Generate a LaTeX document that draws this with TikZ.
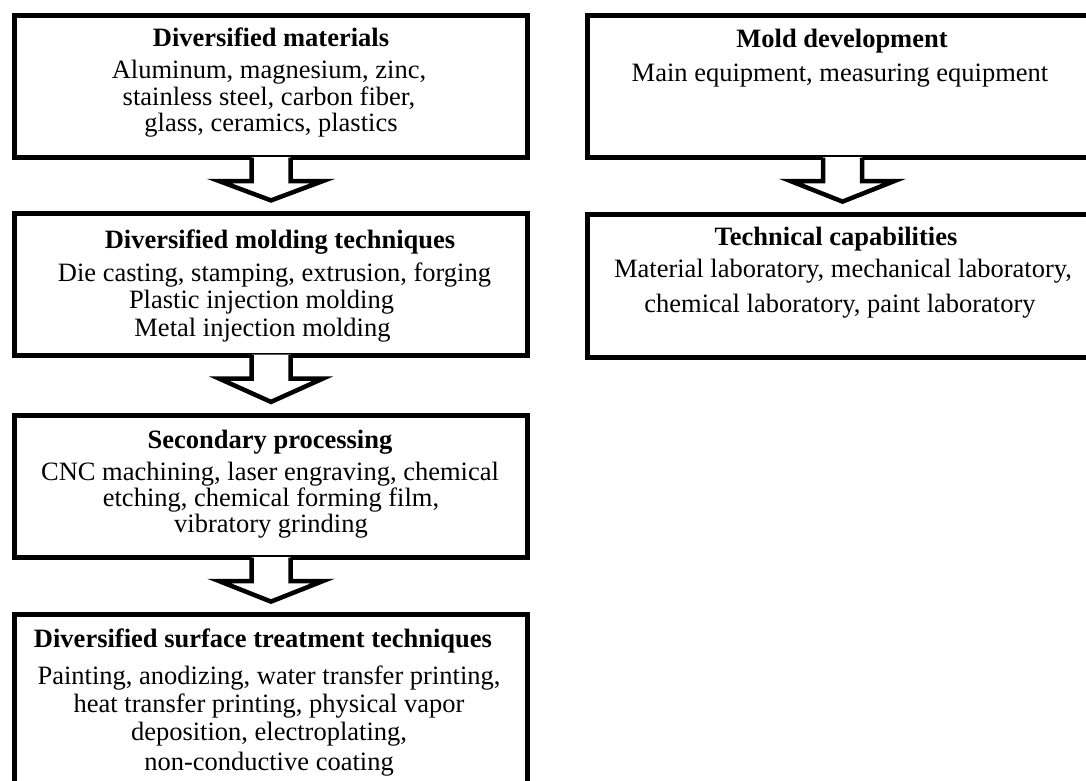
\documentclass[tikz,border=0pt]{standalone}
\usepackage{fontspec}
\setmainfont{Liberation Serif}
\usetikzlibrary{calc}
\newcommand{\blkarrow}[2]{%
  \coordinate (#1-s) at (#1.south);
  \coordinate (#1-t) at ($(#1.south)!0.8!(#2.north)$);
  \fill[white] ($(#1-s)+(-19.5,-3)$) -- ($(#1-s)+(-19.5,21)$) -- ($(#1-s)+(-52,21)$) -- (#1-t) -- ($(#1-s)+(52,21)$) -- ($(#1-s)+(19.5,21)$) -- ($(#1-s)+(19.5,-3)$) -- cycle;
  \draw[blkline] ($(#1-s)+(-19.5,-2.5)$) -- ($(#1-s)+(-19.5,21)$) -- ($(#1-s)+(-52,21)$) -- (#1-t) -- ($(#1-s)+(52,21)$) -- ($(#1-s)+(19.5,21)$) -- ($(#1-s)+(19.5,-2.5)$);
}
\begin{document}
\begin{tikzpicture}[x=1pt,y=-1pt,
  box/.style={draw=black, line width=5pt, fill=white, inner sep=0pt, minimum width=513pt, anchor=north west},
  ttl/.style={anchor=base, inner sep=0pt, font=\fontsize{26.5}{30}\selectfont\bfseries},
  bdy/.style={anchor=base, inner sep=0pt, font=\fontsize{26.5}{30}\selectfont},
  blkline/.style={draw=black, line width=4.5pt, line join=miter, miter limit=10}
]
\useasboundingbox (0,0) rectangle (1086,780);
\begin{scope}
\clip (0,0) rectangle (1086,780);
% boxes
\node[box, minimum height=142pt] (b1) at (12,13) {};
\node[box, minimum height=142pt] (b2) at (12,210.5) {};
\node[box, minimum height=142pt] (b3) at (12,413) {};
\node[box, minimum height=200pt] (b4) at (12,612) {};
\node[box, minimum width=510pt, minimum height=142pt] (rA) at (585,13) {};
\node[box, minimum width=510pt, minimum height=143pt] (rB) at (585,212) {};
% block arrows
\blkarrow{b1}{b2}
\blkarrow{b2}{b3}
\blkarrow{b3}{b4}
\blkarrow{rA}{rB}
% texts
\node[ttl] (t1) at (271,46) {Diversified materials};
\node[bdy] (t1a) at (269,78) {Aluminum, magnesium, zinc,};
\node[bdy] (t1b) at (269,105) {stainless steel, carbon fiber,};
\node[bdy] (t1c) at (271,131) {glass, ceramics, plastics};
\node[ttl] (t2) at (280,248) {Diversified molding techniques};
\node[bdy] (t2a) at (274.5,281) {Die casting, stamping, extrusion, forging};
\node[bdy] (t2b) at (261.5,308) {Plastic injection molding};
\node[bdy] (t2c) at (262.5,336) {Metal injection molding};
\node[ttl] (t3) at (270,448) {Secondary processing};
\node[bdy] (t3a) at (270,480) {CNC machining, laser engraving, chemical};
\node[bdy] (t3b) at (271,506) {etching, chemical forming film,};
\node[bdy] (t3c) at (271,532) {vibratory grinding};
\node[ttl] (t4) at (263,647) {Diversified surface treatment techniques};
\node[bdy] (t4a) at (269,684) {Painting, anodizing, water transfer printing,};
\node[bdy] (t4b) at (269,712) {heat transfer printing, physical vapor};
\node[bdy] (t4c) at (269,740) {deposition, electroplating,};
\node[bdy] (t4d) at (269,770) {non-conductive coating};
\node[ttl] (t5) at (842,47) {Mold development};
\node[bdy] (t5a) at (840,81) {Main equipment, measuring equipment};
\node[ttl] (t6) at (836,245) {Technical capabilities};
\node[bdy] (t6a) at (843,277) {Material laboratory, mechanical laboratory,};
\node[bdy] (t6b) at (840,312) {chemical laboratory, paint laboratory};
\end{scope}
\end{tikzpicture}
\end{document}
